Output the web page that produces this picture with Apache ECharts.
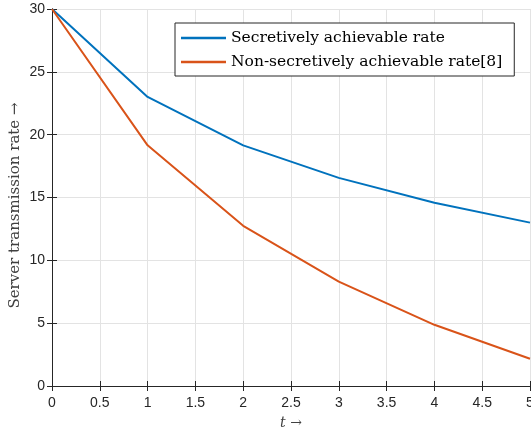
<!DOCTYPE html>
<html>
<head>
<meta charset="utf-8">
<script src="https://cdn.jsdelivr.net/npm/echarts@6/dist/echarts.min.js"></script>
<style>
  html, body { margin: 0; padding: 0; background: #fff; }
  #chart { width: 531px; height: 430px; }
</style>
</head>
<body>
<div id="chart"></div>
<script>
// data
var tValues = [0, 1, 2, 3, 4, 5];
var secretRate = [30, 23.0, 19.15, 16.56, 14.58, 13.0];
var nonSecretRate = [30, 19.15, 12.75, 8.31, 4.87, 2.17];
var seriesNames = ['Secretively achievable rate', 'Non-secretively achievable rate[8]'];

function pairs(xs, ys) {
  return xs.map(function (x, i) { return [x, ys[i]]; });
}

var chart = echarts.init(document.getElementById('chart'));

var axisColor = '#262626';
var gridColor = '#e3e3e3';
var serif = 'DejaVu Serif';

var option = {
  animation: false,
  grid: { left: 52, right: 1, top: 9, bottom: 44, containLabel: false, outerBoundsMode: 'none' },
  legend: {
    orient: 'vertical',
    left: 175,
    top: 23,
    padding: [7, 12, 6, 6],
    itemGap: 8,
    itemWidth: 45,
    itemHeight: 2.5,
    icon: 'rect',
    borderColor: axisColor,
    borderWidth: 1,
    borderRadius: 0,
    backgroundColor: '#fff',
    textStyle: { fontFamily: serif, fontSize: 15.5, color: '#000' },
    data: seriesNames
  },
  xAxis: [{
    type: 'value', min: 0, max: 5, interval: 0.5,
    name: '{i|t} →', nameLocation: 'middle', nameGap: 30,
    nameTextStyle: {
      fontFamily: serif, fontSize: 14, color: '#404040',
      rich: { i: { fontStyle: 'italic', fontFamily: serif, fontSize: 14, color: '#404040' } }
    },
    axisLine: { lineStyle: { color: axisColor } },
    axisTick: { inside: true, length: 5, lineStyle: { color: axisColor } },
    axisLabel: { color: axisColor, fontFamily: 'Liberation Sans', fontSize: 14, margin: 10 },
    splitLine: { show: true, lineStyle: { color: gridColor } }
  }, {
    type: 'value', min: 0, max: 5, interval: 0.5, position: 'top',
    axisLine: { lineStyle: { color: axisColor } },
    axisTick: { inside: true, length: 5, lineStyle: { color: axisColor } },
    axisLabel: { show: false },
    splitLine: { show: false }
  }],
  yAxis: [{
    type: 'value', min: 0, max: 30, interval: 5,
    name: 'Server transmission rate →', nameLocation: 'middle', nameGap: 29,
    nameMoveOverlap: false,
    nameTextStyle: { fontFamily: serif, fontSize: 15, color: '#404040', padding: [0, 0, 0, -16] },
    axisLine: { show: true, lineStyle: { color: axisColor } },
    axisTick: { show: true, inside: true, length: 5, lineStyle: { color: axisColor } },
    axisLabel: { color: axisColor, fontFamily: 'Liberation Sans', fontSize: 14, margin: 7 },
    splitLine: { show: true, lineStyle: { color: gridColor } }
  }, {
    type: 'value', min: 0, max: 30, interval: 5, position: 'right',
    axisLine: { show: true, lineStyle: { color: axisColor } },
    axisTick: { show: true, inside: true, length: 5, lineStyle: { color: axisColor } },
    axisLabel: { show: false },
    splitLine: { show: false }
  }],
  series: [{
    name: seriesNames[0],
    type: 'line',
    symbol: 'none',
    data: pairs(tValues, secretRate),
    lineStyle: { color: '#0072BD', width: 2 },
    itemStyle: { color: '#0072BD' }
  }, {
    name: seriesNames[1],
    type: 'line',
    symbol: 'none',
    data: pairs(tValues, nonSecretRate),
    lineStyle: { color: '#D95319', width: 2 },
    itemStyle: { color: '#D95319' }
  }]
};

chart.setOption(option);
</script>
</body>
</html>
